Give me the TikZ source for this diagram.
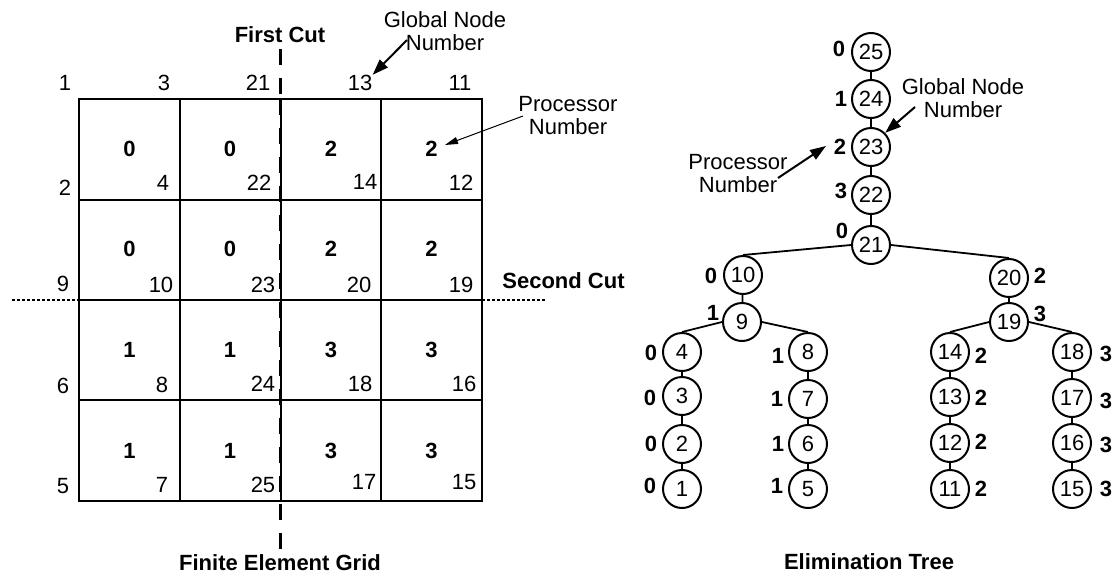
\documentclass[tikz,border=0pt]{standalone}
\usepackage{fontspec}
\setmainfont{Liberation Sans}
\usetikzlibrary{arrows.meta}

\begin{document}
\begin{tikzpicture}[x=0.5pt, y=-0.5pt,
	every node/.style={inner sep=0pt, font=\fontsize{11}{11.5}\selectfont},
	proc/.style={font=\fontsize{11}{11.5}\selectfont\bfseries},
	note/.style={align=center},
	vtx/.style={draw, circle, line width=1pt, minimum size=19pt},
	edge/.style={line width=0.9pt},
	gridline/.style={line width=1pt},
	firstcut/.style={line width=1.4pt, dash pattern=on 8pt off 6.5pt},
	secondcut/.style={line width=1pt, dash pattern=on 1.5pt off 1pt},
	ptr/.style={line width=1pt, -{Triangle[length=8pt,width=5.5pt]}},
	thinptr/.style={line width=0.5pt, -{Triangle[length=6.5pt,width=3.5pt]}}]
		\useasboundingbox (0,0) rectangle (1118,578);
		%%%%% GRID %%%%%
		\draw[gridline] (79,99) rectangle (482,501);
		\draw[gridline] (179.75,99) -- (179.75,501);
		\draw[gridline] (280.5,99) -- (280.5,501);
		\draw[gridline] (381.25,99) -- (381.25,501);
		\draw[gridline] (79,200) -- (482,200);
		\draw[gridline] (79,300) -- (482,300);
		\draw[gridline] (79,400) -- (482,400);
		
		% cuts
		\draw[firstcut] (280.5,49) -- (280.5,99);
		\draw[firstcut] (280.5,99) -- (280.5,501);
		\draw[firstcut] (280.5,549) -- (280.5,501);
		\draw[secondcut] (12,300) -- (545,300);
		\node[proc] (fcut) at (280,35) {First Cut};
		\node[proc, anchor=west] (scut) at (502,281) {Second Cut};
		
		% node numbers on the grid
		\node (t1) at (65,83) {1};
		\node (t3) at (164,83) {3};
		\node (t21) at (258,83) {21};
		\node (t13) at (360,83) {13};
		\node (t11) at (460,83) {11};
		\node (l2) at (65,188) {2};
		\node (l9) at (63,284) {9};
		\node (l6) at (63,386) {6};
		\node (l5) at (63,486) {5};
		\node (c4) at (163,183) {4};
		\node (c22) at (259,183) {22};
		\node (c14) at (365,182) {14};
		\node (c12) at (461,183) {12};
		\node (c10) at (161,285) {10};
		\node (c23) at (263,285) {23};
		\node (c20) at (359,285) {20};
		\node (c19) at (461,285) {19};
		\node (c8) at (162,385) {8};
		\node (c24) at (263,384) {24};
		\node (c18) at (360,384) {18};
		\node (c16) at (464,384) {16};
		\node (c7) at (162,485) {7};
		\node (c25) at (263,485) {25};
		\node (c17) at (364,482) {17};
		\node (c15) at (464,482) {15};
		
		% processors on the grid
		\node[proc] (g1) at (129.4,149) {0};
		\node[proc] (g2) at (230.1,149) {0};
		\node[proc] (g3) at (330.9,149) {2};
		\node[proc] (g4) at (431.6,149) {2};
		\node[proc] (g5) at (129.4,249) {0};
		\node[proc] (g6) at (230.1,249) {0};
		\node[proc] (g7) at (330.9,249) {2};
		\node[proc] (g8) at (431.6,249) {2};
		\node[proc] (g9) at (129.4,350) {1};
		\node[proc] (g10) at (230.1,350) {1};
		\node[proc] (g11) at (330.9,350) {3};
		\node[proc] (g12) at (431.6,350) {3};
		\node[proc] (g13) at (129.4,451) {1};
		\node[proc] (g14) at (230.1,451) {1};
		\node[proc] (g15) at (330.9,451) {3};
		\node[proc] (g16) at (431.6,451) {3};
		
		\node[note] (gnA) at (445,31) {Global Node\\Number};
		\coordinate (gnAs) at (407,40);
		\draw[ptr] (gnAs) -- (t13.north east);
		\node[note] (pnA) at (568,116) {Processor\\Number};
		\coordinate (pnAs) at (523,116);
		\coordinate (pnAe) at (445,145);
		\draw[thinptr] (pnAs) -- (pnAe);
		
		\node[proc] (gtitle) at (280,563) {Finite Element Grid};
		
		%%%%% TREE %%%%%
		\node[vtx] (n25) at (871,52) {25};
		\node[vtx] (n24) at (871,99) {24};
		\node[vtx] (n23) at (871,147) {23};
		\node[vtx] (n22) at (871,195) {22};
		\node[vtx] (n21) at (871,245) {21};
		\node[vtx] (n10) at (743,275) {10};
		\node[vtx] (n20) at (1009,278) {20};
		\node[vtx] (n9) at (742,322) {9};
		\node[vtx] (n19) at (1009,322) {19};
		\node[vtx] (n4) at (682,352) {4};
		\node[vtx] (n3) at (682,396) {3};
		\node[vtx] (n2) at (682,444) {2};
		\node[vtx] (n1) at (682,489) {1};
		\node[vtx] (n8) at (808,352) {8};
		\node[vtx] (n7) at (808,399) {7};
		\node[vtx] (n6) at (808,444) {6};
		\node[vtx] (n5) at (808,489) {5};
		\node[vtx] (n14) at (950,352) {14};
		\node[vtx] (n13) at (950,397) {13};
		\node[vtx] (n12) at (950,443) {12};
		\node[vtx] (n11) at (950,489) {11};
		\node[vtx] (n18) at (1072,352) {18};
		\node[vtx] (n17) at (1072,398) {17};
		\node[vtx] (n16) at (1072,443) {16};
		\node[vtx] (n15) at (1072,489) {15};
		
		\draw[edge] (n25) -- (n24);
		\draw[edge] (n24) -- (n23);
		\draw[edge] (n23) -- (n22);
		\draw[edge] (n22) -- (n21);
		\draw[edge] (n21.west) -- (n10.north);
		\draw[edge] (n21.east) -- (n20.north);
		\draw[edge] (n10) -- (n9);
		\draw[edge] (n20) -- (n19);
		\draw[edge] (n9.west) -- (n4.north);
		\draw[edge] (n9.east) -- (n8.north);
		\draw[edge] (n19.west) -- (n14.north);
		\draw[edge] (n19.east) -- (n18.north);
		\draw[edge] (n4) -- (n3);
		\draw[edge] (n3) -- (n2);
		\draw[edge] (n2) -- (n1);
		\draw[edge] (n8) -- (n7);
		\draw[edge] (n7) -- (n6);
		\draw[edge] (n6) -- (n5);
		\draw[edge] (n14) -- (n13);
		\draw[edge] (n13) -- (n12);
		\draw[edge] (n12) -- (n11);
		\draw[edge] (n18) -- (n17);
		\draw[edge] (n17) -- (n16);
		\draw[edge] (n16) -- (n15);
		
		% processors on the tree
		\node[proc] (p25) at (839,49) {0};
		\node[proc] (p24) at (841,99) {1};
		\node[proc] (p23) at (840,147) {2};
		\node[proc] (p22) at (841,191) {3};
		\node[proc] (p21) at (842,231) {0};
		\node[proc] (p10) at (711,276) {0};
		\node[proc] (p20) at (1040,276) {2};
		\node[proc] (p9) at (713,313) {1};
		\node[proc] (p19) at (1040,314) {3};
		\node[proc] (p4) at (651,353) {0};
		\node[proc] (p3) at (650,398) {0};
		\node[proc] (p2) at (651,444) {0};
		\node[proc] (p1) at (650,486) {0};
		\node[proc] (p8) at (778,356) {1};
		\node[proc] (p7) at (777,399) {1};
		\node[proc] (p6) at (778,444) {1};
		\node[proc] (p5) at (777,486) {1};
		\node[proc] (p14) at (981,356) {2};
		\node[proc] (p13) at (981,398) {2};
		\node[proc] (p12) at (981,442) {2};
		\node[proc] (p11) at (981,489) {2};
		\node[proc] (p18) at (1106,354) {3};
		\node[proc] (p17) at (1106,401) {3};
		\node[proc] (p16) at (1106,445) {3};
		\node[proc] (p15) at (1106,489) {3};
		
		\node[note] (gnB) at (963,98) {Global Node\\Number};
		\coordinate (gnBs) at (915,107);
		\draw[ptr] (gnBs) -- (n23.north east);
		\node[note] (pnB) at (738,174) {Processor\\Number};
		\coordinate (pnBs) at (778,178);
		\coordinate (pnBe) at (826,146);
		\draw[ptr] (pnBs) -- (pnBe);
		
		\node[proc] (ttitle) at (869,562) {Elimination Tree};
		%%%%% END %%%%%
	\end{tikzpicture}
\end{document}
